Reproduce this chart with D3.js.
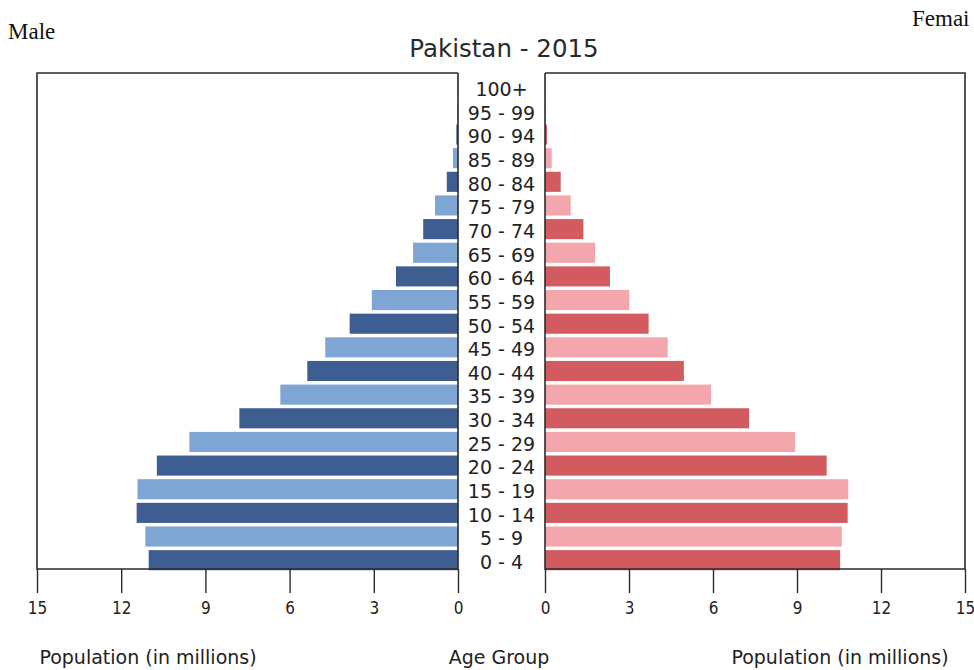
<!DOCTYPE html>
<html>
<head>
<meta charset="utf-8">
<script src="https://cdn.jsdelivr.net/npm/d3@7"></script>
<style>
  html, body { margin: 0; padding: 0; background: #fff; }
  svg { display: block; }
</style>
</head>
<body>
<svg id="chart" width="974" height="670"></svg>
<script>
// Age groups, bottom to top
const ageGroups = ['0 - 4', '5 - 9', '10 - 14', '15 - 19', '20 - 24', '25 - 29', '30 - 34',
  '35 - 39', '40 - 44', '45 - 49', '50 - 54', '55 - 59', '60 - 64', '65 - 69', '70 - 74',
  '75 - 79', '80 - 84', '85 - 89', '90 - 94', '95 - 99', '100+'];

// Population in millions
const malePop = [11.02, 11.14, 11.45, 11.42, 10.73, 9.57, 7.79, 6.33, 5.37, 4.73, 3.86,
  3.07, 2.21, 1.60, 1.24, 0.82, 0.40, 0.18, 0.06, 0.02, 0.01];
const femalePop = [10.54, 10.60, 10.81, 10.83, 10.06, 8.93, 7.29, 5.93, 4.96, 4.38, 3.70,
  3.01, 2.32, 1.79, 1.37, 0.92, 0.56, 0.24, 0.07, 0.02, 0.01];

const xTicks = [0, 3, 6, 9, 12, 15];
const xMax = 15;

const titleText = 'Pakistan - 2015';
const xAxisTitle = 'Population (in millions)';
const midTitle = 'Age Group';

const svg = d3.select('#chart');
const font = '"DejaVu Sans", sans-serif';
const fontNarrow = '"DejaVu Sans Condensed", "DejaVu Sans", sans-serif';

const plotTop = 73, plotBottom = 569;
const leftPanel = { x0: 37, x1: 458 };
const rightPanel = { x0: 545, x1: 965 };

const xL = d3.scaleLinear().domain([0, xMax]).range([leftPanel.x1, leftPanel.x0]);
const xR = d3.scaleLinear().domain([0, xMax]).range([rightPanel.x0, rightPanel.x1]);
const y = d3.scaleBand().domain(ageGroups).range([572, 75.4]).paddingInner(0.15).paddingOuter(0.075);

const maleColors = ['#3e5e92', '#7fa5d5'];
const femaleColors = ['#d25b60', '#f4a6ad'];

// Bars
svg.append('g').selectAll('rect').data(ageGroups).join('rect')
  .attr('x', (d, i) => xL(malePop[i]))
  .attr('y', d => y(d))
  .attr('width', (d, i) => xL(0) - xL(malePop[i]))
  .attr('height', y.bandwidth())
  .attr('fill', (d, i) => maleColors[i % 2]);

svg.append('g').selectAll('rect').data(ageGroups).join('rect')
  .attr('x', xR(0))
  .attr('y', d => y(d))
  .attr('width', (d, i) => xR(femalePop[i]) - xR(0))
  .attr('height', y.bandwidth())
  .attr('fill', (d, i) => femaleColors[i % 2]);

// Panel frames
const frame = svg.append('g').attr('fill', 'none').attr('stroke', '#2b2b2b').attr('stroke-width', 1.6);
frame.append('path').attr('d', `M${leftPanel.x1},${plotTop}H${leftPanel.x0}V${plotBottom}H${leftPanel.x1}V${plotTop}`);
frame.append('path').attr('d', `M${rightPanel.x0},${plotTop}H${rightPanel.x1}V${plotBottom}H${rightPanel.x0}V${plotTop}`);

// Bottom axes
function styleAxis(g) {
  g.select('.domain').remove();
  g.selectAll('.tick line').attr('stroke', '#2b2b2b').attr('stroke-width', 1.4);
  g.selectAll('.tick text').attr('font-family', fontNarrow).attr('font-size', 17).attr('fill', '#222');
}
svg.append('g').attr('transform', `translate(0,${plotBottom})`)
  .call(d3.axisBottom(xL).tickValues(xTicks).tickSize(24).tickPadding(8.5).tickFormat(d3.format('d')))
  .call(styleAxis);
svg.append('g').attr('transform', `translate(0,${plotBottom})`)
  .call(d3.axisBottom(xR).tickValues(xTicks).tickSize(24).tickPadding(8.5).tickFormat(d3.format('d')))
  .call(styleAxis);

// Age group labels
const midX = (leftPanel.x1 + rightPanel.x0) / 2;
svg.append('g').selectAll('text').data(ageGroups).join('text')
  .attr('x', midX)
  .attr('y', d => y(d) + y.bandwidth() / 2 + 2)
  .attr('dy', '0.36em')
  .attr('text-anchor', 'middle')
  .attr('font-family', font).attr('font-size', 19).attr('fill', '#222')
  .text(d => d);

// Title
svg.append('text').attr('x', 504).attr('y', 57).attr('text-anchor', 'middle')
  .attr('font-family', font).attr('font-size', 24.5).attr('fill', '#2a2a2a')
  .text(titleText);

// Axis titles
const titleY = 664;
svg.append('text').attr('x', 148).attr('y', titleY).attr('text-anchor', 'middle')
  .attr('font-family', font).attr('font-size', 19).attr('fill', '#222').text(xAxisTitle);
svg.append('text').attr('x', 499).attr('y', titleY).attr('text-anchor', 'middle')
  .attr('font-family', font).attr('font-size', 19).attr('fill', '#222').text(midTitle);
svg.append('text').attr('x', 840).attr('y', titleY).attr('text-anchor', 'middle')
  .attr('font-family', font).attr('font-size', 19).attr('fill', '#222').text(xAxisTitle);

// Side labels with their white backing
svg.append('rect').attr('x', 876).attr('y', 0).attr('width', 98).attr('height', 72).attr('fill', '#fff');
svg.append('text').attr('x', 8).attr('y', 39)
  .attr('font-family', '"Liberation Serif", serif').attr('font-size', 23).attr('fill', '#111').text('Male');
svg.append('text').attr('x', 912).attr('y', 26)
  .attr('font-family', '"Liberation Serif", serif').attr('font-size', 23).attr('fill', '#111').text('Femai');
</script>
</body>
</html>
